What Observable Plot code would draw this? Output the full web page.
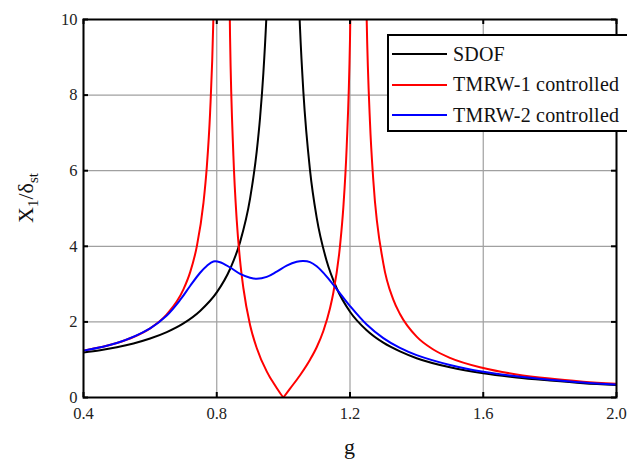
<!DOCTYPE html>
<html>
<head>
<meta charset="utf-8">
<script src="https://cdn.jsdelivr.net/npm/d3@7"></script>
<script src="https://cdn.jsdelivr.net/npm/@observablehq/plot@0.6"></script>
<style>
  html, body { margin: 0; padding: 0; background: white; overflow: hidden; }
  #wrap { position: relative; width: 627px; height: 461px; overflow: hidden; }
  #legend { position: absolute; left: 387px; top: 34px; width: 300px; height: 94px;
    border: 2px solid black; background: white; font-family: "Liberation Serif", serif;
    font-size: 20px; letter-spacing: 0.2px; color: #111; }
  .row { position: absolute; left: 0; height: 30px; display: flex; align-items: center; white-space: nowrap; }
  .sw { display: inline-block; width: 55px; height: 2px; margin-left: 3px; margin-right: 6px; }
</style>
</head>
<body>
<div id="wrap"></div>
<script>
// ---- data ----
const xTicks = [0.4, 0.8, 1.2, 1.6, 2.0];
const yTicks = [0, 2, 4, 6, 8, 10];
const seriesNames = ["SDOF", "TMRW-1 controlled", "TMRW-2 controlled"];
const seriesColors = ["black", "#ff0000", "#0000ff"];

// SDOF (left and right of resonance)
const sdofLeftG = [0.4, 0.45, 0.5, 0.55, 0.6, 0.65, 0.7, 0.75, 0.8, 0.84, 0.87, 0.9, 0.92, 0.93, 0.94, 0.95, 0.96, 0.97];
const sdofLeftV = [1.19, 1.25, 1.33, 1.43, 1.56, 1.73, 1.96, 2.29, 2.78, 3.40, 4.11, 5.26, 6.51, 7.40, 8.59, 10.26, 12.76, 16.9];
const sdofRightG = [1.03, 1.04, 1.05, 1.06, 1.08, 1.1, 1.13, 1.16, 1.2, 1.25, 1.3, 1.35, 1.4, 1.5, 1.6, 1.7, 1.8, 1.9, 2.0];
const sdofRightV = [16.4, 12.25, 9.76, 8.09, 6.01, 4.76, 3.61, 2.89, 2.27, 1.78, 1.45, 1.22, 1.04, 0.80, 0.64, 0.53, 0.45, 0.38, 0.33];

// TMRW-1 controlled (left of the anti-resonance at g = 1, and right of it)
const tm1LeftG = [0.4, 0.5, 0.55, 0.6, 0.65, 0.7, 0.72, 0.74, 0.76, 0.77, 0.78, 0.79, 0.80, 0.83, 0.84, 0.85, 0.86, 0.87, 0.88, 0.9, 0.92, 0.95, 0.96, 0.97, 0.98, 0.99, 1.0];
const tm1LeftV = [1.24, 1.44, 1.60, 1.83, 2.20, 2.86, 3.31, 3.99, 5.14, 6.08, 7.53, 10.08, 15.7, 17.2, 9.52, 6.39, 4.69, 3.62, 2.89, 1.92, 1.31, 0.69, 0.53, 0.39, 0.25, 0.12, 0];
const tm1RightG = [1.0, 1.02, 1.05, 1.08, 1.1, 1.12, 1.14, 1.15, 1.17, 1.18, 1.19, 1.2, 1.21, 1.24, 1.25, 1.26, 1.27, 1.3, 1.33, 1.35, 1.4, 1.45, 1.5, 1.6, 1.7, 1.8, 1.9, 2.0];
const tm1RightV = [0, 0.235, 0.59, 1.0, 1.33, 1.76, 2.36, 2.77, 4.01, 5.03, 6.62, 9.48, 16.2, 16.4, 10.04, 7.28, 5.74, 3.55, 2.59, 2.21, 1.61, 1.27, 1.05, 0.78, 0.61, 0.50, 0.42, 0.36];

// TMRW-2 controlled
const tm2G = [0.4, 0.5, 0.6, 0.65, 0.69, 0.72, 0.75, 0.77, 0.79, 0.81, 0.84, 0.87, 0.9, 0.92, 0.95, 0.98, 1.01, 1.04, 1.06, 1.08, 1.1, 1.13, 1.16, 1.2, 1.25, 1.3, 1.35, 1.4, 1.5, 1.6, 1.7, 1.8, 1.9, 2.0];
const tm2V = [1.24, 1.44, 1.83, 2.17, 2.58, 2.95, 3.30, 3.48, 3.60, 3.58, 3.44, 3.27, 3.17, 3.14, 3.19, 3.33, 3.49, 3.59, 3.61, 3.58, 3.47, 3.20, 2.87, 2.42, 1.93, 1.57, 1.31, 1.12, 0.86, 0.68, 0.56, 0.47, 0.395, 0.34];

const toRows = (G, V) => G.map((g, i) => ({g, v: V[i]}));

const W = 627, H = 461;
const mL = 83, mR = 11, mT = 19, mB = 64;
const fw = W - mL - mR, fh = H - mT - mB;
const tickLen = 5;

const lineOpts = (color, curve) => ({x: "g", y: "v", stroke: color, strokeWidth: 2, clip: true, curve});

const chart = Plot.plot({
  width: W, height: H,
  marginLeft: mL, marginRight: mR, marginTop: mT, marginBottom: mB,
  style: {fontFamily: "Liberation Serif, serif", fontSize: "16.5px", background: "white", color: "#222"},
  x: {domain: [0.4, 2.0]},
  y: {domain: [0, 10]},
  marks: [
    Plot.gridX(xTicks, {stroke: "#a0a0a0", strokeOpacity: 1, strokeWidth: 1.2}),
    Plot.gridY(yTicks, {stroke: "#a0a0a0", strokeOpacity: 1, strokeWidth: 1.2}),
    Plot.lineY(toRows(sdofLeftG, sdofLeftV), lineOpts(seriesColors[0], "monotone-x")),
    Plot.lineY(toRows(sdofRightG, sdofRightV), lineOpts(seriesColors[0], "monotone-x")),
    Plot.lineY(toRows(tm1LeftG, tm1LeftV), lineOpts(seriesColors[1], "monotone-x")),
    Plot.lineY(toRows(tm1RightG, tm1RightV), lineOpts(seriesColors[1], "monotone-x")),
    Plot.lineY(toRows(tm2G, tm2V), lineOpts(seriesColors[2], "catmull-rom")),
    Plot.axisX(xTicks, {tickSize: 0, tickPadding: 10, tickFormat: d3.format(".1f"), label: null}),
    Plot.axisY(yTicks, {tickSize: 0, tickPadding: 6, label: null}),
    Plot.tickX(xTicks, {x: d => d, stroke: "black", strokeWidth: 2, insetTop: fh - tickLen}),
    Plot.tickX(xTicks, {x: d => d, stroke: "black", strokeWidth: 2, insetBottom: fh - tickLen}),
    Plot.tickY(yTicks, {y: d => d, stroke: "black", strokeWidth: 2, insetRight: fw - tickLen}),
    Plot.tickY(yTicks, {y: d => d, stroke: "black", strokeWidth: 2, insetLeft: fw - tickLen}),
    Plot.frame({stroke: "black", strokeWidth: 2})
  ]
});

const wrap = document.getElementById("wrap");
wrap.appendChild(chart);

// axis titles
const svg = d3.select(chart);
svg.append("text")
  .attr("x", mL + fw / 2).attr("y", 454)
  .attr("text-anchor", "middle")
  .attr("font-family", "Liberation Serif, serif").attr("font-size", 22).attr("fill", "#111")
  .text("g");

const yl = svg.append("text")
  .attr("transform", `translate(32.5, ${mT + fh / 2 - 10}) rotate(-90)`)
  .attr("text-anchor", "middle")
  .attr("font-family", "Liberation Serif, serif").attr("font-size", 22).attr("fill", "#111");
yl.append("tspan").text("X");
yl.append("tspan").attr("font-size", 15).attr("dy", 5).text("1");
yl.append("tspan").attr("dy", -5).text("/δ");
yl.append("tspan").attr("font-size", 15).attr("dy", 5).text("st");

// legend (overlay, running off the right edge of the frame like the reference)
const legend = document.createElement("div");
legend.id = "legend";
seriesNames.forEach((name, i) => {
  const row = document.createElement("div");
  row.className = "row";
  row.style.top = (3 + i * 30.5) + "px";
  const sw = document.createElement("span");
  sw.className = "sw";
  sw.style.background = seriesColors[i];
  const label = document.createElement("span");
  label.textContent = name;
  row.appendChild(sw);
  row.appendChild(label);
  legend.appendChild(row);
});
wrap.appendChild(legend);
</script>
</body>
</html>
